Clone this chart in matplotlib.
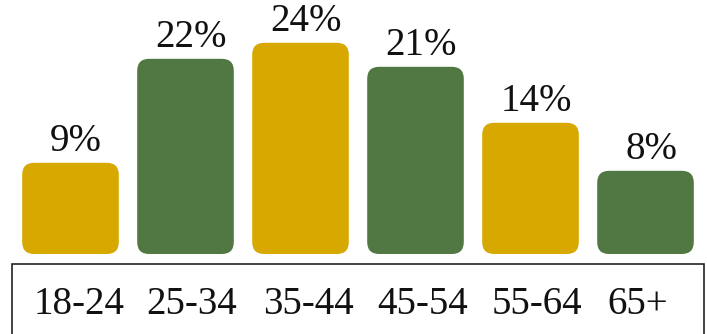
import matplotlib
matplotlib.use("Agg")
import matplotlib.pyplot as plt
from matplotlib.patches import FancyBboxPatch, Rectangle

categories = ["18-24", "25-34", "35-44", "45-54", "55-64", "65+"]
values = [9, 22, 24, 21, 14, 8]
labels = ["9%", "22%", "24%", "21%", "14%", "8%"]
colors = ["#D6A800", "#517843", "#D6A800", "#517843", "#D6A800", "#517843"]

W, H = 707, 334
fig = plt.figure(figsize=(W / 100, H / 100), dpi=100)
font = ["Liberation Serif", "DejaVu Serif"]

ax_bottom_px = 254
ax = fig.add_axes([13 / W, (H - ax_bottom_px) / H, 690 / W, ax_bottom_px / H])
base = -2.4
ax.set_xlim(-0.5, 5.5)
ax.set_ylim(base, 29.35)
ax.axis("off")

px_x = 690 / 6.0
px_y = ax_bottom_px / (29.35 - base)
r_px = 12
bw = 0.84
for i, (v, c, lab) in enumerate(zip(values, colors, labels)):
    p = FancyBboxPatch((i - bw / 2, base), bw, v - base,
                       boxstyle=f"round,pad=0,rounding_size={r_px / px_x}",
                       mutation_aspect=px_x / px_y,
                       facecolor=c, edgecolor="none")
    ax.add_patch(p)
    ax.text(i + 0.05, v + 0.3, lab, ha="center", va="bottom",
            fontsize=28, family=font, color="#111111")

fig.patches.append(Rectangle((12 / W, -0.1), (704 - 12) / W, (H - 264) / H + 0.1,
                             transform=fig.transFigure, fill=False,
                             edgecolor="#222222", linewidth=1.2))
label_x = [79, 192, 308, 423, 537, 638]
for xc, cat in zip(label_x, categories):
    fig.text(xc / W, (H - 304) / H, cat, ha="center", va="center",
             fontsize=28, family=font, color="#111111")

fig.savefig("out.png", dpi=100)
